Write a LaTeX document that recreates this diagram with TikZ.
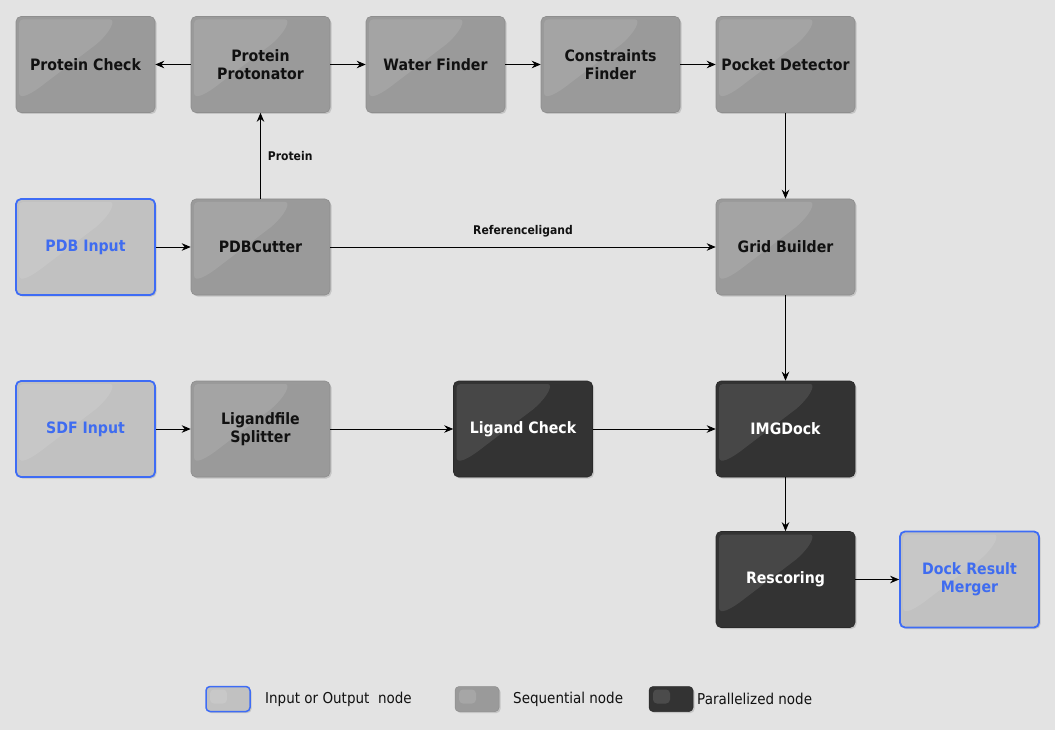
\documentclass[tikz,border=0pt]{standalone}
\usepackage{fontspec}
\setmainfont{DejaVu Sans}[FakeStretch=0.9]
\usetikzlibrary{arrows.meta,shadows,calc}
\definecolor{bg}{HTML}{E3E3E3}
\definecolor{seqfill}{HTML}{9A9A9A}
\definecolor{seqline}{HTML}{8E8E8E}
\definecolor{iofill}{HTML}{C1C1C1}
\definecolor{parfill}{HTML}{333333}
\definecolor{parline}{HTML}{2A2A2A}
\definecolor{ioblue}{HTML}{3E6CF5}
\definecolor{iotext}{HTML}{3F6CF0}
\definecolor{ink}{HTML}{111111}
\tikzset{
  x=1pt, y=-1pt,
  box/.style={rounded corners=5pt, minimum width=139pt, minimum height=96pt,
    inner sep=2pt, align=center, font=\bfseries\fontsize{15.7}{18}\selectfont,
    drop shadow={shadow xshift=1.5pt, shadow yshift=-1.5pt, opacity=0.3},
    path picture={\fill[white, fill opacity=0.1, rounded corners=4pt]
      ($(path picture bounding box.north west)+(3,76)$) --
      ($(path picture bounding box.north west)+(3,3)$) --
      ($(path picture bounding box.north west)+(90,3)$) [sharp corners] ..
      controls ($(path picture bounding box.north west)+(100,3)$) and
               ($(path picture bounding box.north west)+(95,15)$) ..
      ($(path picture bounding box.north west)+(80,28)$) --
      ($(path picture bounding box.north west)+(30,66)$) ..
      controls ($(path picture bounding box.north west)+(15,78)$) and
               ($(path picture bounding box.north west)+(3,84)$) ..
      cycle;}},
  seq/.style={box, fill=seqfill, draw=seqline, line width=0.6pt, text=ink},
  io/.style={box, fill=iofill, draw=ioblue, line width=1.8pt, text=iotext},
  par/.style={box, fill=parfill, draw=parline, line width=0.6pt, text=white},
  icon/.style={rounded corners=4pt, minimum width=44pt, minimum height=25pt, inner sep=0pt,
    drop shadow={shadow xshift=1.5pt, shadow yshift=-1.5pt, opacity=0.3},
    path picture={\fill[white, fill opacity=0.12, rounded corners=4pt]
      ($(path picture bounding box.north west)+(4,3)$) rectangle
      ($(path picture bounding box.north west)+(21,17)$);}},
  ioicon/.style={icon, fill=iofill, draw=ioblue, line width=1.5pt},
  seqicon/.style={icon, fill=seqfill, draw=seqline, line width=0.5pt},
  paricon/.style={icon, fill=parfill, draw=parline, line width=0.5pt},
  legtxt/.style={anchor=west, inner sep=0pt, text=ink, font=\fontsize{15}{17}\selectfont},
  lbl/.style={text=ink, font=\bfseries\fontsize{12}{14}\selectfont, inner sep=0pt},
  arr/.style={-{Stealth[length=9pt, width=7.5pt, inset=3pt]}, line width=0.8pt, black}
}
\begin{document}
\begin{tikzpicture}
\fill[bg] (0,0) rectangle (1055,730);
\useasboundingbox (0,0) rectangle (1055,730);

\node[seq] (pcheck) at (85.5,64.5) {Protein Check};
\node[seq] (pprot) at (260.5,64.5) {Protein\\Protonator};
\node[seq] (water) at (435.5,64.5) {Water Finder};
\node[seq] (constr) at (610.5,64.5) {Constraints\\Finder};
\node[seq] (pocket) at (785.5,64.5) {Pocket Detector};

\node[io] (pdb) at (85.5,247) {PDB Input};
\node[seq] (cutter) at (260.5,247) {PDBCutter};
\node[seq] (grid) at (785.5,247) {Grid Builder};

\node[io] (sdf) at (85.5,429) {SDF Input};
\node[seq] (split) at (260.5,429) {Ligandfile\\Splitter};
\node[par] (lcheck) at (523,429) {Ligand Check};
\node[par] (dock) at (785.5,429) {IMGDock};

\node[par] (resc) at (785.5,579.5) {Rescoring};
\node[io] (merge) at (969.5,579.5) {Dock Result\\Merger};

\draw[arr] (pprot) -- (pcheck);
\draw[arr] (pprot) -- (water);
\draw[arr] (water) -- (constr);
\draw[arr] (constr) -- (pocket);
\draw[arr] (cutter) -- node[lbl, right=7pt] {Protein} (pprot);
\draw[arr] (pocket) -- (grid);
\draw[arr] (pdb) -- (cutter);
\draw[arr] (cutter) -- node[lbl, above=10pt] {Referenceligand} (grid);
\draw[arr] (grid) -- (dock);
\draw[arr] (sdf) -- (split);
\draw[arr] (split) -- (lcheck);
\draw[arr] (lcheck) -- (dock);
\draw[arr] (dock) -- (resc);
\draw[arr] (resc) -- (merge);

\node[ioicon] (lg1) at (228,699) {};
\node[legtxt] (lt1) at (265,699) {Input or Output\ \ node};
\node[seqicon] (lg2) at (477,699) {};
\node[legtxt] (lt2) at (513,699) {Sequential node};
\node[paricon] (lg3) at (671,699) {};
\node[legtxt] (lt3) at (697,699) {Parallelized node};
\end{tikzpicture}
\end{document}
